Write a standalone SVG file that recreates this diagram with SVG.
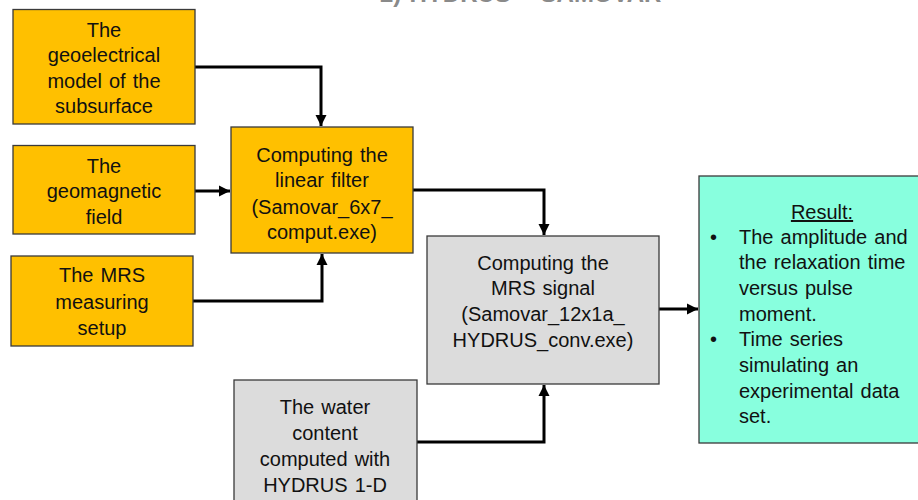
<svg xmlns="http://www.w3.org/2000/svg" width="918" height="500" viewBox="0 0 918 500">
  <defs>
    <marker id="arrow" viewBox="0 0 10 10" refX="10" refY="5" markerWidth="3.8" markerHeight="3.8" markerUnits="strokeWidth" orient="auto">
      <path d="M0,0 L10,5 L0,10 z" fill="#000"/>
    </marker>
    <style>
      .box { stroke: #3a3a3a; stroke-width: 1.3; }
      .orange { fill: #FFC000; }
      .gray { fill: #DCDCDC; }
      .result { fill: #88FFDE; }
      text { font-family: "Liberation Sans", Arial, sans-serif; font-size: 20px; fill: #111; word-spacing: 1.5px; }
      .c { text-anchor: middle; }
      .title { font-size: 24px; font-weight: bold; fill: #8a8a8a; }
      .wire { fill: none; stroke: #000; stroke-width: 3; marker-end: url(#arrow); }
    </style>
  </defs>

  <rect width="918" height="500" fill="#fff"/>

  <!-- slide heading, mostly above the visible area -->
  <text class="title" x="380" y="1.5">2) HYDRUS – SAMOVAR</text>

  <g id="connectors">
    <path class="wire" d="M195,67 H321 V126"/>
    <path class="wire" d="M195,191 H230"/>
    <path class="wire" d="M193,301 H322 V254"/>
    <path class="wire" d="M413,190 H544 V235"/>
    <path class="wire" d="M417,442 H544 V385"/>
    <path class="wire" d="M659,309 H698"/>
  </g>

  <g id="geoelectrical-model">
    <rect class="box orange" x="13" y="9.5" width="182" height="114.5"/>
    <text class="c" x="104" y="37">The</text>
    <text class="c" x="104" y="62">geoelectrical</text>
    <text class="c" x="104" y="88">model of the</text>
    <text class="c" x="104" y="113">subsurface</text>
  </g>

  <g id="geomagnetic-field">
    <rect class="box orange" x="13" y="145.5" width="182" height="88.5"/>
    <text class="c" x="104" y="173">The</text>
    <text class="c" x="104" y="198">geomagnetic</text>
    <text class="c" x="104" y="224">field</text>
  </g>

  <g id="mrs-setup">
    <rect class="box orange" x="11" y="256" width="182" height="90"/>
    <text class="c" x="102" y="282">The MRS</text>
    <text class="c" x="102" y="309">measuring</text>
    <text class="c" x="102" y="335">setup</text>
  </g>

  <g id="linear-filter">
    <rect class="box orange" x="231" y="127" width="182" height="126"/>
    <text class="c" x="322" y="162">Computing the</text>
    <text class="c" x="322" y="187">linear filter</text>
    <text class="c" x="322" y="214">(Samovar_6x7_</text>
    <text class="c" x="322" y="239">comput.exe)</text>
  </g>

  <g id="water-content">
    <rect class="box gray" x="234" y="380" width="183" height="130"/>
    <text class="c" x="325" y="414">The water</text>
    <text class="c" x="325" y="440">content</text>
    <text class="c" x="325" y="466">computed with</text>
    <text class="c" x="325" y="492">HYDRUS 1-D</text>
  </g>

  <g id="mrs-signal">
    <rect class="box gray" x="427" y="236" width="232" height="148"/>
    <text class="c" x="543" y="270">Computing the</text>
    <text class="c" x="543" y="295">MRS signal</text>
    <text class="c" x="543" y="321">(Samovar_12x1a_</text>
    <text class="c" x="543" y="347">HYDRUS_conv.exe)</text>
  </g>

  <g id="result">
    <rect class="box result" x="699" y="176" width="230" height="267"/>
    <text class="c" x="822" y="219" text-decoration="underline">Result:</text>
    <text x="710" y="244">•</text>
    <text x="739" y="244">The amplitude and</text>
    <text x="739" y="269">the relaxation time</text>
    <text x="739" y="295">versus pulse</text>
    <text x="739" y="321">moment.</text>
    <text x="710" y="346">•</text>
    <text x="739" y="346">Time series</text>
    <text x="739" y="372">simulating an</text>
    <text x="739" y="398">experimental data</text>
    <text x="739" y="423">set.</text>
  </g>
</svg>
